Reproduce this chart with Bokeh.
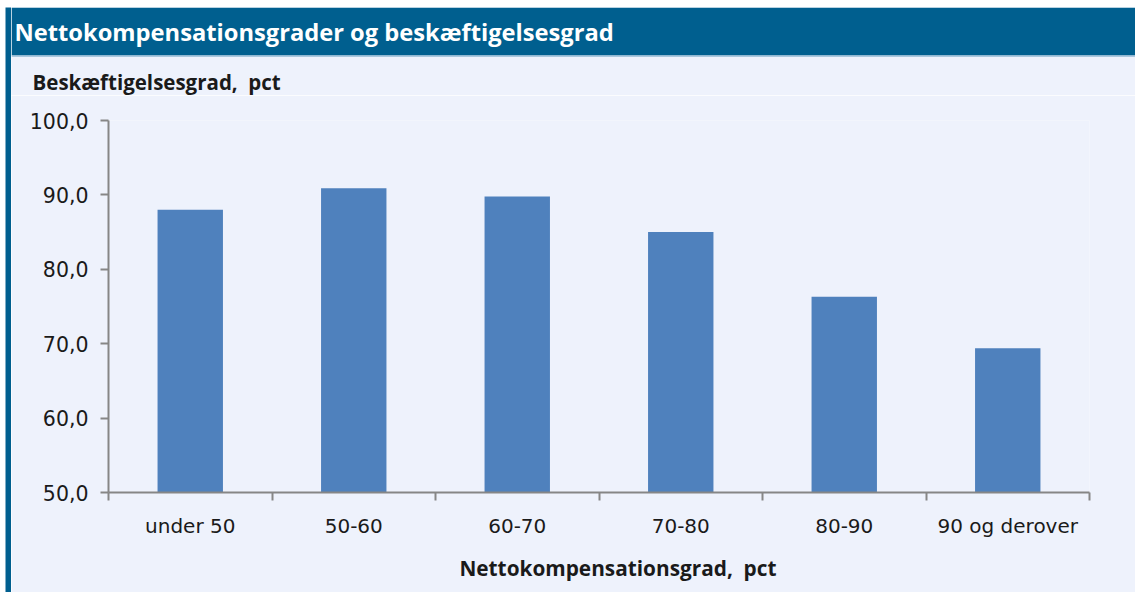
from bokeh.plotting import figure
from bokeh.layouts import row, column
from bokeh.models import Range1d, FixedTicker, CustomJSTickFormatter, Label, Title, Spacer
from bokeh.embed import file_html
from bokeh.resources import INLINE

# ---- data ----
categories = ["under 50", "50-60", "60-70", "70-80", "80-90", "90 og derover"]
values = [88.0, 90.9, 89.8, 85.0, 76.3, 69.4]
y_ticks = [50, 60, 70, 80, 90, 100]
title_text = "Nettokompensationsgrader og beskæftigelsesgrad"
y_label = "Beskæftigelsesgrad,\u00a0 pct"
x_label = "Nettokompensationsgrad,\u00a0 pct"

DARK = "#005f8f"
LIGHTLINE = "#a9c7de"
BG = "#eef2fc"
BAR = "#4f81bd"
AXIS = "#868686"
TXT = "#1a1a1a"

W_STRIP = 6
W_MAIN = 1124
H_HEAD = 88
H_BAR = 48
H_CHART = 497


def bare(fig):
    fig.axis.visible = False
    fig.grid.visible = False
    fig.outline_line_color = None
    fig.frame_align = False


# left border strip
strip = figure(width=W_STRIP, height=H_HEAD + H_CHART, output_backend="svg",
               toolbar_location=None, min_border=0,
               x_range=Range1d(0, 1), y_range=Range1d(0, 1))
bare(strip)
strip.background_fill_color = DARK
strip.border_fill_color = DARK

# head: title bar + y axis caption (range in pixels)
hd = figure(width=W_MAIN, height=H_HEAD, output_backend="svg",
            toolbar_location=None, min_border=0,
            x_range=Range1d(0, W_MAIN), y_range=Range1d(0, H_HEAD))
bare(hd)
hd.background_fill_color = BG
hd.border_fill_color = BG
hd.quad(left=0, right=W_MAIN, bottom=H_HEAD - H_BAR, top=H_HEAD,
        fill_color=DARK, line_color=None)
hd.quad(left=0, right=W_MAIN, bottom=H_HEAD - H_BAR - 1.5, top=H_HEAD - H_BAR,
        fill_color=LIGHTLINE, line_color=None)
hd.add_layout(Label(x=3, y=H_HEAD - 24, text=title_text, text_color="white",
                    text_font="Open Sans", text_font_style="bold",
                    text_font_size="23.7px", text_baseline="middle"))
hd.add_layout(Label(x=21, y=14, text=y_label, text_color=TXT,
                    text_font="Open Sans", text_font_style="bold",
                    text_font_size="20.5px", text_baseline="middle"))

# chart
n = len(categories)
xs = [i + 0.5 for i in range(n)]
p = figure(width=W_MAIN, height=H_CHART, output_backend="svg",
           toolbar_location=None,
           x_range=Range1d(0, n), y_range=Range1d(y_ticks[0], y_ticks[-1]),
           min_border_left=97, min_border_right=46,
           min_border_top=25, min_border_bottom=99)
p.frame_align = False
p.background_fill_color = BG
p.border_fill_color = BG
p.outline_line_color = None
p.grid.visible = False

p.vbar(x=xs, top=values, bottom=y_ticks[0], width=0.4, fill_color=BAR, line_color=None)

xa = p.xaxis[0]
xa.ticker = FixedTicker(ticks=xs, minor_ticks=list(range(n + 1)))
xa.major_label_overrides = {x: c for x, c in zip(xs, categories)}
xa.major_tick_line_color = None
xa.minor_tick_line_color = AXIS
xa.minor_tick_out = 8
xa.minor_tick_in = 0
xa.minor_tick_line_width = 2
xa.axis_line_color = AXIS
xa.axis_line_width = 2
xa.major_label_text_font = "DejaVu Sans"
xa.major_label_text_font_size = "20px"
xa.major_label_text_color = TXT
xa.major_label_standoff = 13

ya = p.yaxis[0]
ya.ticker = FixedTicker(ticks=y_ticks, minor_ticks=[])
ya.formatter = CustomJSTickFormatter(code="return tick.toFixed(1).replace('.', ',');")
ya.major_tick_out = 8
ya.major_tick_in = 0
ya.major_tick_line_color = AXIS
ya.major_tick_line_width = 2
ya.axis_line_color = AXIS
ya.axis_line_width = 2
ya.major_label_text_font = "DejaVu Sans"
ya.major_label_text_font_size = "20.5px"
ya.major_label_text_color = TXT
ya.major_label_standoff = 12

p.add_layout(Title(text=x_label, align="right", offset=313, text_font="Open Sans",
                   text_font_style="bold", text_font_size="20.8px",
                   text_color=TXT, standoff=22), "below")

layout = column(Spacer(height=7),
                row(Spacer(width=5), strip, column(hd, p)))
open("out.html", "w").write(file_html(layout, INLINE))
